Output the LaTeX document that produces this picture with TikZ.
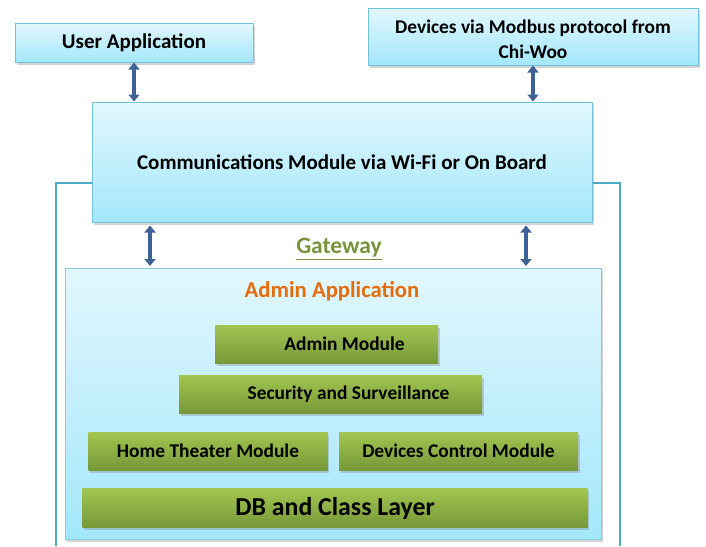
\documentclass[tikz,border=0pt]{standalone}
\usepackage{fontspec}
\setmainfont{Carlito}
\usetikzlibrary{arrows.meta,shadows}

\definecolor{skyline}{HTML}{6FC3DA}
\definecolor{skytop}{HTML}{E2F7FD}
\definecolor{skybot}{HTML}{A3E7FB}
\definecolor{gateline}{HTML}{4BACC6}
\definecolor{leaftop}{HTML}{A2C551}
\definecolor{leafbot}{HTML}{779838}
\definecolor{linkblue}{HTML}{3E6293}
\definecolor{gatetxt}{HTML}{77933C}
\definecolor{admintxt}{HTML}{E46C0A}

\tikzset{
  boxfont/.style={font=\bfseries\fontsize{19.4}{25}\selectfont},
  bigfont/.style={font=\bfseries\fontsize{21}{25}\selectfont},
  skybox/.style={draw=skyline, line width=1pt, top color=skytop, bottom color=skybot,
    drop shadow={shadow xshift=1.5pt, shadow yshift=-2.5pt, opacity=.35},
    boxfont, align=center, inner sep=0pt},
  leafbox/.style={top color=leaftop, bottom color=leafbot,
    drop shadow={shadow xshift=1.5pt, shadow yshift=-2.5pt, opacity=.35},
    boxfont, inner sep=0pt, minimum height=38pt},
  link/.style={linkblue, line width=3.5pt,
    {Triangle[width=11pt,length=7pt]}-{Triangle[width=11pt,length=7pt]}}
}

\begin{document}
\begin{tikzpicture}[x=1pt, y=-1pt]
\useasboundingbox (0,0) rectangle (706,546);

    % gateway frame begin
    \draw[gateline, line width=2.5pt] (56,546) -- (56,183) -- (620,183) -- (620,546);
    % gateway frame end

\node[skybox, bigfont, minimum width=238pt, minimum height=39pt] (user) at (134,42.5) {User Application};
\node[skybox, minimum width=330pt, minimum height=57pt] (devices) at (533,36.5)
    {\rule{0pt}{20pt}Devices via Modbus protocol from\\Chi-Woo};
\node[skybox, bigfont, minimum width=500pt, minimum height=120pt] (comm) at (342,162)
    {Communications Module via Wi-Fi or On Board};

\node[font=\bfseries\fontsize{23.5}{28}\selectfont, text=gatetxt] (gateway) at (339,249) {\underline{Gateway}};

\node[skybox, draw=skyline!85, minimum width=536pt, minimum height=271pt] (admin) at (333.5,404) {};
\node[font=\bfseries\fontsize{22.7}{26}\selectfont, text=admintxt] (admintitle) at (332,291) {Admin Application};

\node[leafbox, minimum width=223pt] (adminmod) at (326.5,344) {\hspace*{36pt}Admin Module};
\node[leafbox, minimum width=303pt] (security) at (330.5,394) {\hspace*{36pt}Security and Surveillance};
\node[leafbox, minimum width=239pt] (theater) at (208,451) {Home Theater Module};
\node[leafbox, minimum width=239pt] (control) at (458.5,451) {Devices Control Module};
\node[leafbox, minimum width=505pt, minimum height=39pt,
    font=\bfseries\fontsize{25.8}{30}\selectfont] (dblayer) at (335,508) {DB and Class Layer};

\coordinate (portL) at (150,0);
\coordinate (portR) at (526,0);

\draw[link] (user.south) -- (user.south |- comm.north);
\draw[link] (devices.south) -- (devices.south |- comm.north);
\draw[link, shorten <=3pt, shorten >=2pt] (portL |- comm.south) -- (portL |- admin.north);
\draw[link, shorten <=3pt, shorten >=2pt] (portR |- comm.south) -- (portR |- admin.north);

\end{tikzpicture}
\end{document}
